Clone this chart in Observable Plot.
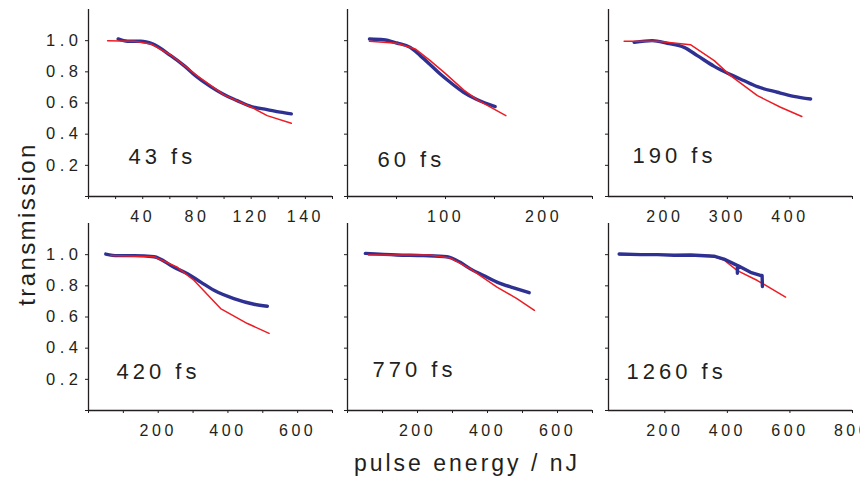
<!DOCTYPE html>
<html>
<head>
<meta charset="utf-8">
<script src="https://cdn.jsdelivr.net/npm/d3@7"></script>
<script src="https://cdn.jsdelivr.net/npm/@observablehq/plot@0.6"></script>
<style>
  body { margin: 0; background: #fff; }
  #chart { position: relative; width: 860px; height: 482px; overflow: hidden; background: #fff;
           font-family: "Liberation Sans", Arial, Helvetica, sans-serif; color: #231f20; }
  #chart svg { position: absolute; }
  g[aria-label="x-axis tick label"] { letter-spacing: 3.5px; }
  g[aria-label="y-axis tick label"] { letter-spacing: 4.5px; }
  g[aria-label="text"] { letter-spacing: 4px; }
</style>
</head>
<body>
<div id="chart"></div>
<script>
// ---------------- DATA ----------------
const pulseLabels = ["43 fs", "60 fs", "190 fs", "420 fs", "770 fs", "1260 fs"];

// measured transmission (blue), [pulse energy nJ, transmission]
const measured43 = [[21.9,1.011],[28.8,0.996],[38.6,0.996],[47.2,0.979],[60.7,0.904],[70.5,0.840],[80.3,0.765],[90.1,0.705],[99.9,0.654],[109.7,0.615],[120.2,0.577],[131.8,0.558],[141.5,0.541],[149.6,0.530]];
const measured60 = [[22.4,1.011],[36.7,1.006],[50.4,0.985],[64,0.957],[74.2,0.904],[84.4,0.846],[94.6,0.786],[104.8,0.733],[118.4,0.669],[132,0.622],[150.7,0.577]];
const measured190 = [[151,0.989],[180,1.0],[204,0.983],[231,0.957],[252,0.904],[279,0.835],[305,0.782],[326,0.744],[348,0.705],[380,0.669],[406,0.643],[433,0.626]];
const measured420 = [[49.6,1.004],[83,0.994],[131,0.994],[188,0.987],[245,0.919],[284,0.877],[322,0.824],[360,0.771],[417,0.718],[475,0.682],[513,0.669]];
const measured770 = [[51,1.008],[141,0.998],[217,0.994],[284,0.987],[322,0.951],[351,0.909],[389,0.866],[427,0.824],[484,0.781],[519,0.756]];
const measured1260 = [[54,1.004],[123,1.0],[177,1.0],[230,0.996],[283,0.998],[357,0.99],[389,0.972],[426,0.936],[432,0.93],[432,0.881],[433,0.93],[474,0.887],[508,0.866],[511,0.866],[512,0.796]];

// model transmission (red)
const model43 = [[14.1,1.0],[33.7,0.996],[46,0.979],[60.7,0.908],[80.3,0.774],[99.9,0.652],[120.2,0.573],[131.8,0.519],[149.6,0.47]];
const model60 = [[22.4,0.996],[50.4,0.983],[69.1,0.947],[84.4,0.872],[99.7,0.79],[118.4,0.684],[132,0.622],[161.6,0.519]];
const model190 = [[135,0.996],[188,0.996],[241,0.974],[279,0.872],[305,0.776],[348,0.647],[385,0.573],[419,0.513]];
const model420 = [[64,0.994],[188,0.987],[255,0.919],[303,0.834],[379,0.654],[456,0.558],[518,0.495]];
const model770 = [[60,0.998],[236,0.998],[293,0.979],[351,0.909],[427,0.792],[484,0.718],[534,0.643]];
const model1260 = [[54,1.0],[347,0.994],[389,0.966],[432,0.898],[496,0.834],[586,0.728]];

const measuredSeries = [measured43, measured60, measured190, measured420, measured770, measured1260];
const modelSeries = [model43, model60, model190, model420, model770, model1260];

// axes
const xDomains = [[0,180],[0,250],[110,500],[0,700],[0,700],[20,800]];
const xTickValues = [
  [0,20,40,60,80,100,120,140,160,180],
  [0,50,100,150,200,250],
  [200,300,400,500],
  [0,100,200,300,400,500,600,700],
  [0,100,200,300,400,500,600,700],
  [200,400,600,800]
];
const xTickLabelValues = [[40,80,120,160],[100,200],[200,300,400],[200,400,600],[200,400,600],[200,400,600,800]];
const xTickLabelTexts = [["40","80","120","140"],["100","200"],["200","300","400"],["200","400","600"],["200","400","600"],["200","400","600","800"]];
const yTickValues = [0,0.2,0.4,0.6,0.8,1.0];
const yTickLabelValues = [0.2,0.4,0.6,0.8,1.0];
const yTickLabelTexts = ["0.2","0.4","0.6","0.8","1.0"];
const yDomain = [0, 1.2];
const xTitle = "pulse energy / nJ";
const yTitle = "transmission";

// ---------------- LAYOUT (styling only) ----------------
const layout = [
  {left: 28,  top: 0,   w: 244, dx: 40, dy: -33, labels: true,  redOnTop: true,  curve: "monotone-x"},
  {left: 287, top: 0,   w: 245, dx: 30, dy: -30, labels: false, redOnTop: true,  curve: "monotone-x"},
  {left: 548, top: 0,   w: 244, dx: 24, dy: -34, labels: false, redOnTop: true,  curve: "monotone-x"},
  {left: 28,  top: 214, w: 244, dx: 28, dy: -32, labels: true,  redOnTop: true,  curve: "monotone-x"},
  {left: 287, top: 214, w: 245, dx: 25, dy: -34, labels: false, redOnTop: true,  curve: "monotone-x"},
  {left: 548, top: 214, w: 244, dx: 18, dy: -32, labels: false, redOnTop: false, curve: "linear"}
];
const INK = "#231f20", BLUE = "#2e3192", RED = "#ed1c24";
const chart = document.getElementById("chart");

layout.forEach((L, i) => {
  const labelMap = new Map(xTickLabelValues[i].map((v, k) => [v, xTickLabelTexts[i][k]]));
  const yLabelMap = new Map(yTickLabelValues.map((v, k) => [v, yTickLabelTexts[k]]));
  const blue = Plot.line(measuredSeries[i], {x: d => d[0], y: d => d[1], stroke: BLUE, strokeWidth: 3.4, strokeLinejoin: "round", strokeLinecap: "round", curve: L.curve});
  const red = Plot.line(modelSeries[i], {x: d => d[0], y: d => d[1], stroke: RED, strokeWidth: 1.5});
  const marks = [
    Plot.axisX(xTickValues[i], {tickSize: 3, fill: "none", stroke: INK, label: null}),
    Plot.axisX(xTickLabelValues[i], {tickSize: 0, tickPadding: 14, tickFormat: d => labelMap.get(d), fill: INK, label: null, fontSize: 16}),
    Plot.axisY(yTickValues, {tickSize: 3, fill: "none", stroke: INK, label: null}),
    L.labels
      ? Plot.axisY(yTickLabelValues, {tickSize: 0, tickPadding: 6, tickFormat: d => yLabelMap.get(d), fill: INK, label: null, fontSize: 16.5})
      : null,
    Plot.ruleX([xDomains[i][0]], {stroke: INK, strokeWidth: 1.3}),
    Plot.ruleY([0], {stroke: INK, strokeWidth: 1.3}),
    ...(L.redOnTop ? [blue, red] : [red, blue]),
    Plot.text([pulseLabels[i]], {text: d => d, frameAnchor: "bottom-left", dx: L.dx, dy: L.dy,
      textAnchor: "start", lineAnchor: "bottom", fontSize: 22, fill: INK})
  ];
  const svg = Plot.plot({
    width: 60 + L.w + 14,
    height: 236,
    marginLeft: 60, marginRight: 14, marginTop: 9, marginBottom: 40,
    x: {domain: xDomains[i]},
    y: {domain: yDomain},
    style: {background: "transparent", overflow: "visible", fontFamily: "'Liberation Sans', Arial, sans-serif", fontSize: "16px", color: INK},
    marks
  });
  svg.style.left = L.left + "px";
  svg.style.top = L.top + "px";
  chart.appendChild(svg);
});

// shared axis titles
const overlay = d3.select(chart).append("svg")
  .attr("width", 860).attr("height", 482)
  .style("left", "0px").style("top", "0px").style("pointer-events", "none");
overlay.append("text")
  .attr("transform", "translate(35,224) rotate(-90)")
  .attr("text-anchor", "middle")
  .attr("fill", INK)
  .style("font-family", "'Liberation Sans', Arial, sans-serif")
  .style("font-size", "24px")
  .style("letter-spacing", "2.4px")
  .text(yTitle);
overlay.append("text")
  .attr("x", 467).attr("y", 471)
  .attr("text-anchor", "middle")
  .attr("fill", INK)
  .style("font-family", "'Liberation Sans', Arial, sans-serif")
  .style("font-size", "23px")
  .style("letter-spacing", "3px")
  .text(xTitle);
</script>
</body>
</html>
